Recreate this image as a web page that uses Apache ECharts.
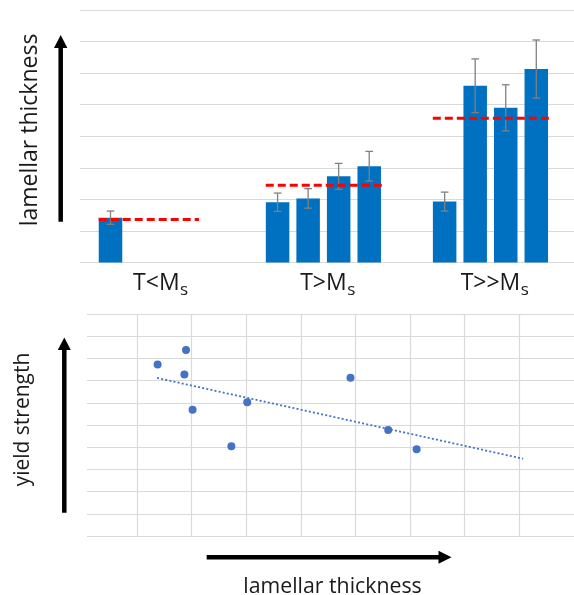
<!DOCTYPE html>
<html>
<head>
<meta charset="utf-8">
<script src="https://cdn.jsdelivr.net/npm/echarts@6/dist/echarts.min.js"></script>
<style>
html,body{margin:0;padding:0;background:#fff;}
#c{width:574px;height:595px;}
</style>
</head>
<body>
<div id="c"></div>
<script>
// ---- data: top chart (lamellar thickness per condition) ----
const categories = ['T<Ms', 'T>Ms', 'T>>Ms'];
const sample1 = [1.42, 1.91, 1.93];
const sample2 = [null, 2.03, 5.60];
const sample3 = [null, 2.73, 4.90];
const sample4 = [null, 3.05, 6.13];
const err1 = [0.21, 0.29, 0.30];
const err2 = [null, 0.31, 0.85];
const err3 = [null, 0.41, 0.73];
const err4 = [null, 0.47, 0.92];
const groupMean = [1.36, 2.45, 4.57];

// ---- data: bottom chart (yield strength vs lamellar thickness) ----
const thicknessX = [1.38, 1.90, 1.87, 2.02, 2.73, 3.02, 4.91, 5.60, 6.12];
const strengthY = [7.72, 8.38, 7.27, 5.69, 4.04, 6.02, 7.13, 4.77, 3.91];
const trendX = [1.37, 8.07];
const trendY = [7.12, 3.48];

// ---- style constants ----
const FONT = "'Open Sans', 'Noto Sans', sans-serif";
const TXT = '#1a1a1a';
const GRID_C = '#d9d9d9';
const BAR_C = '#0070C0';
const BAR_W = 23.5;
const BAR_GAP = 0.3;
const MEAN_LEFT = [0.345, 0.345, 0.345];
const MEAN_RIGHT = [0.255, 0.365, 0.365];
const MAIN_FS = 23;
const SUB_FS = 17;

const barValues = [sample1, sample2, sample3, sample4];
const errValues = [err1, err2, err3, err4];

// measure the main part of each category label so the subscript can follow it
const mctx = document.createElement('canvas').getContext('2d');
mctx.font = MAIN_FS + 'px ' + FONT;
const subRich = {};
categories.forEach(function (c, i) {
  const w = mctx.measureText(c.slice(0, -1)).width;
  subRich['s' + i] = {fontFamily: FONT, fontSize: SUB_FS, color: TXT, lineHeight: 17,
    padding: [0, 0, 0, w / 2 + 0.5]};
});

const chart = echarts.init(document.getElementById('c'), null, {renderer: 'canvas'});

const series = [];
barValues.forEach(function (vals, s) {
  series.push({
    type: 'bar', xAxisIndex: 0, yAxisIndex: 0,
    data: vals.map(function (v) { return v == null ? '-' : v; }),
    barWidth: BAR_W, barGap: (BAR_GAP * 100) + '%',
    itemStyle: {color: BAR_C},
    z: 2, silent: true
  });
});
barValues.forEach(function (vals, s) {
  const data = [];
  vals.forEach(function (v, i) {
    if (v != null) data.push([i, v - errValues[s][i], v + errValues[s][i]]);
  });
  series.push({
    type: 'custom', xAxisIndex: 0, yAxisIndex: 0, z: 3, silent: true,
    encode: {x: 0, y: [1, 2]},
    data: data,
    renderItem: function (params, api) {
      const i = api.value(0);
      const lo = api.coord([i, api.value(1)]);
      const hi = api.coord([i, api.value(2)]);
      const x = lo[0] + (s - 1.5) * BAR_W * (1 + BAR_GAP);
      const st = {stroke: '#808080', lineWidth: 1.3};
      const cw = 3.8;
      return {type: 'group', children: [
        {type: 'line', shape: {x1: x, y1: hi[1], x2: x, y2: lo[1]}, style: st},
        {type: 'line', shape: {x1: x - cw, y1: hi[1], x2: x + cw, y2: hi[1]}, style: st},
        {type: 'line', shape: {x1: x - cw, y1: lo[1], x2: x + cw, y2: lo[1]}, style: st}
      ]};
    }
  });
});
series.push({
  type: 'custom', xAxisIndex: 0, yAxisIndex: 0, z: 4, silent: true,
  encode: {x: 0, y: 1},
  data: groupMean.map(function (m, i) { return [i, m]; }),
  renderItem: function (params, api) {
    const i = api.value(0);
    const c = api.coord([i, api.value(1)]);
    const bw = api.size([1, 0])[0];
    return {type: 'line',
      shape: {x1: c[0] - MEAN_LEFT[i] * bw, y1: c[1], x2: c[0] + MEAN_RIGHT[i] * bw, y2: c[1]},
      style: {stroke: '#ff0000', lineWidth: 3, lineDash: [8, 4]}};
  }
});
series.push({
  type: 'scatter', xAxisIndex: 2, yAxisIndex: 2, z: 3, silent: true,
  data: thicknessX.map(function (x, i) { return [x, strengthY[i]]; }),
  symbolSize: 8,
  itemStyle: {color: '#4472C4', opacity: 1}
});
series.push({
  type: 'line', xAxisIndex: 2, yAxisIndex: 2, z: 2, silent: true,
  data: trendX.map(function (x, i) { return [x, trendY[i]]; }),
  symbol: 'none',
  lineStyle: {color: '#4472C4', width: 1.8, type: [2, 2.2]}
});

function hiddenAxis(extra) {
  return Object.assign({
    type: 'value', axisLine: {show: false}, axisTick: {show: false},
    axisLabel: {show: false}, splitLine: {show: false}
  }, extra);
}

const option = {
  animation: false,
  backgroundColor: '#ffffff',
  grid: [
    {left: 72.8, width: 505.2, top: 10, height: 252.5},
    {left: 80, right: 0, top: 10, height: 252.5},
    {left: 82.2, width: 495.5, top: 314, height: 222},
    {left: 87, right: 0, top: 314, height: 222}
  ],
  xAxis: [
    {
      type: 'category', gridIndex: 0, data: categories, boundaryGap: true, position: 'bottom',
      axisLine: {show: false}, axisTick: {show: false}, splitLine: {show: false},
      axisLabel: {
        margin: 6,
        formatter: function (v) { return '{m|' + v.slice(0, -1) + '}'; },
        rich: {m: {fontFamily: FONT, fontSize: MAIN_FS, color: TXT, lineHeight: 30}}
      }
    },
    hiddenAxis({gridIndex: 1, min: 0, max: 1}),
    hiddenAxis({gridIndex: 2, min: 0, max: 9, interval: 1,
      splitLine: {show: true, showMinLine: false, showMaxLine: false,
        lineStyle: {color: GRID_C, width: 1.2}}}),
    hiddenAxis({gridIndex: 3, min: 0, max: 1}),
    {
      // subscript row of the category labels
      type: 'category', gridIndex: 0, data: categories, boundaryGap: true, position: 'bottom', offset: 0,
      axisLine: {show: false}, axisTick: {show: false}, splitLine: {show: false},
      axisLabel: {
        margin: 19.5, align: 'left',
        formatter: function (v, i) { return '{s' + i + '|' + v.slice(-1) + '}'; },
        rich: subRich
      }
    }
  ],
  yAxis: [
    hiddenAxis({gridIndex: 0, min: 0, max: 8, interval: 1}),
    hiddenAxis({gridIndex: 1, min: 0, max: 8, interval: 1,
      splitLine: {show: true, lineStyle: {color: GRID_C, width: 1.2}}}),
    hiddenAxis({gridIndex: 2, min: 0, max: 10, interval: 1}),
    hiddenAxis({gridIndex: 3, min: 0, max: 10, interval: 1,
      splitLine: {show: true, lineStyle: {color: GRID_C, width: 1.2}}})
  ],
  series: series,
  graphic: [
    // top y arrow
    {type: 'line', shape: {x1: 60.7, y1: 221.7, x2: 60.7, y2: 46}, style: {stroke: '#000', lineWidth: 4.5}},
    {type: 'polygon', shape: {points: [[60.7, 35], [54, 48], [67.4, 48]]}, style: {fill: '#000'}},
    {type: 'text', x: 30, y: 130, rotation: Math.PI / 2,
      style: {text: 'lamellar thickness', font: '23px ' + FONT, fill: TXT, align: 'center', verticalAlign: 'middle'}},
    // bottom y arrow
    {type: 'line', shape: {x1: 64.3, y1: 512.7, x2: 64.3, y2: 348}, style: {stroke: '#000', lineWidth: 4.5}},
    {type: 'polygon', shape: {points: [[64.3, 337.5], [57.8, 350], [70.8, 350]]}, style: {fill: '#000'}},
    {type: 'text', x: 23.3, y: 419.5, rotation: Math.PI / 2,
      style: {text: 'yield strength', font: '21px ' + FONT, fill: TXT, align: 'center', verticalAlign: 'middle'}},
    // bottom x arrow
    {type: 'line', shape: {x1: 206.7, y1: 557.3, x2: 441, y2: 557.3}, style: {stroke: '#000', lineWidth: 4.5}},
    {type: 'polygon', shape: {points: [[451.5, 557.3], [438.5, 550.8], [438.5, 563.8]]}, style: {fill: '#000'}},
    {type: 'text', x: 332.5, y: 587.2,
      style: {text: 'lamellar thickness', font: '21.3px ' + FONT, fill: TXT, align: 'center', verticalAlign: 'middle'}}
  ]
};
chart.setOption(option);
</script>
</body>
</html>
